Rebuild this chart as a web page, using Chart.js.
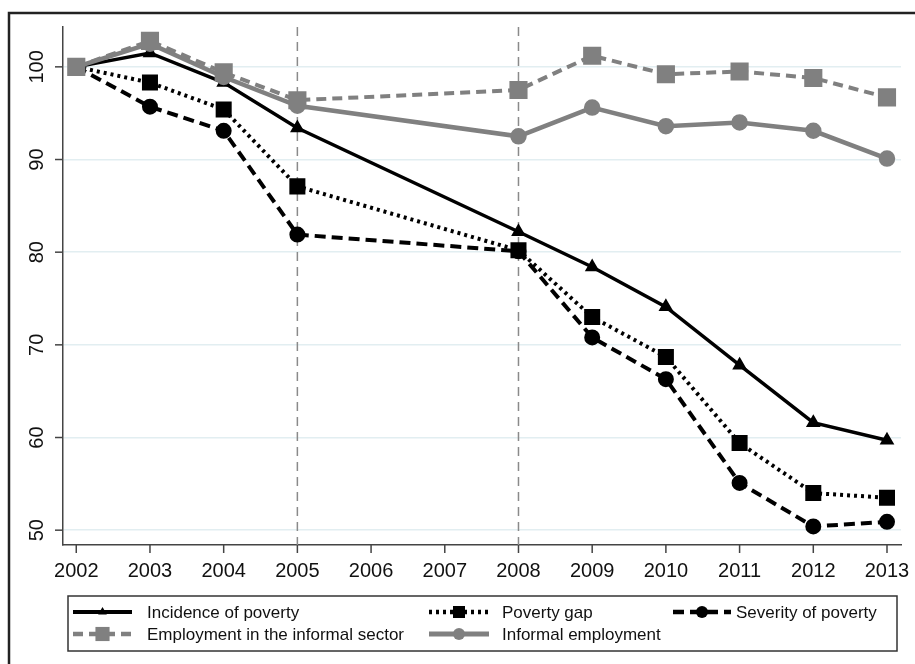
<!DOCTYPE html>
<html>
<head>
<meta charset="utf-8">
<script src="https://cdn.jsdelivr.net/npm/chart.js@4"></script>
<style>
  html, body { margin: 0; padding: 0; background: #fff; }
  #wrap { width: 915px; height: 664px; }
</style>
</head>
<body>
<div id="wrap"><canvas id="grafico" width="915" height="664"></canvas></div>
<script>
// data (index, 2002 = 100)
const anos = [2002, 2003, 2004, 2005, 2008, 2009, 2010, 2011, 2012, 2013];
const incidencia = [100, 101.5, 98.3, 93.4, 82.2, 78.4, 74.1, 67.8, 61.6, 59.7];
const hiato = [100, 98.3, 95.4, 87.1, 80.2, 73.0, 68.7, 59.4, 54.0, 53.5];
const severidade = [100, 95.7, 93.1, 81.9, 80.1, 70.8, 66.3, 55.1, 50.4, 50.9];
const empSetorInformal = [100, 102.8, 99.4, 96.4, 97.5, 101.2, 99.2, 99.5, 98.8, 96.7];
const empInformal = [100, 102.5, 98.9, 95.8, 92.5, 95.6, 93.6, 94.0, 93.1, 90.1];
const xTicks = [2002, 2003, 2004, 2005, 2006, 2007, 2008, 2009, 2010, 2011, 2012, 2013];
const yTicks = [50, 60, 70, 80, 90, 100];
const linhasRef = [2005, 2008];

const CINZA = '#808080';
const fonte = '"Liberation Sans", Arial, sans-serif';

function pts(vals) {
  return anos.map((a, i) => ({ x: a, y: vals[i] }));
}

const datasets = [
  { label: 'Incidence of poverty', data: pts(incidencia), borderColor: '#000', backgroundColor: '#000',
    borderWidth: 3.5, pointStyle: 'triangle', pointRadius: 5, order: 1 },
  { label: 'Poverty gap', data: pts(hiato), borderColor: '#000', backgroundColor: '#000',
    borderWidth: 4, borderDash: [3, 4], pointStyle: 'rect', pointRadius: 8.5, order: 1 },
  { label: 'Severity of poverty', data: pts(severidade), borderColor: '#000', backgroundColor: '#000',
    borderWidth: 4, borderDash: [11, 6], pointStyle: 'circle', pointRadius: 6, order: 1 },
  { label: 'Employment in the informal sector', data: pts(empSetorInformal), borderColor: CINZA, backgroundColor: CINZA,
    borderWidth: 4, borderDash: [10, 6], pointStyle: 'rect', pointRadius: 10, order: 0 },
  { label: 'Informal employment', data: pts(empInformal), borderColor: CINZA, backgroundColor: CINZA,
    borderWidth: 4.5, pointStyle: 'circle', pointRadius: 6, order: 0 }
];

function desenhaMarcador(ctx, estilo, r, x, y, cor) {
  ctx.save();
  ctx.fillStyle = cor;
  ctx.setLineDash([]);
  ctx.beginPath();
  if (estilo === 'rect') {
    const s = Math.SQRT1_2 * r;
    ctx.rect(x - s, y - s, 2 * s, 2 * s);
  } else if (estilo === 'circle') {
    ctx.arc(x, y, r, 0, Math.PI * 2);
  } else if (estilo === 'triangle') {
    ctx.moveTo(x, y - r);
    ctx.lineTo(x + r * 0.87, y + r * 0.5);
    ctx.lineTo(x - r * 0.87, y + r * 0.5);
    ctx.closePath();
  }
  ctx.fill();
  ctx.restore();
}

const molduraEixos = {
  id: 'molduraEixos',
  beforeDraw(chart) {
    const ctx = chart.ctx;
    ctx.save();
    ctx.fillStyle = '#fff';
    ctx.fillRect(0, 0, chart.width, chart.height);
    ctx.strokeStyle = '#222';
    ctx.lineWidth = 2.5;
    ctx.strokeRect(9, 13, 950, 700);
    ctx.restore();
  },
  beforeDatasetsDraw(chart) {
    const ctx = chart.ctx;
    const xs = chart.scales.x, area = chart.chartArea;
    ctx.save();
    ctx.strokeStyle = '#8a8a8a';
    ctx.lineWidth = 1.5;
    ctx.setLineDash([9, 6]);
    linhasRef.forEach(a => {
      const px = xs.getPixelForValue(a);
      ctx.beginPath();
      ctx.moveTo(px, area.top);
      ctx.lineTo(px, area.bottom);
      ctx.stroke();
    });
    ctx.restore();
  },
  afterDraw(chart) {
    const ctx = chart.ctx;
    const xs = chart.scales.x, ys = chart.scales.y, area = chart.chartArea;
    ctx.save();
    ctx.strokeStyle = '#444';
    ctx.lineWidth = 1.5;
    ctx.fillStyle = '#111';
    ctx.font = '20px ' + fonte;
    // x ticks
    ctx.textAlign = 'center';
    ctx.textBaseline = 'middle';
    xTicks.forEach(a => {
      const px = xs.getPixelForValue(a);
      ctx.beginPath();
      ctx.moveTo(px, area.bottom);
      ctx.lineTo(px, area.bottom + 8);
      ctx.stroke();
      ctx.fillText(String(a), px, area.bottom + 26);
    });
    // y ticks, rotated
    yTicks.forEach(v => {
      const py = ys.getPixelForValue(v);
      ctx.beginPath();
      ctx.moveTo(area.left - 8, py);
      ctx.lineTo(area.left, py);
      ctx.stroke();
      ctx.save();
      ctx.translate(area.left - 26, py);
      ctx.rotate(-Math.PI / 2);
      ctx.fillText(String(v), 0, 0);
      ctx.restore();
    });

    // legend
    ctx.strokeStyle = '#333';
    ctx.lineWidth = 1.5;
    ctx.strokeRect(68, 596, 829, 55);
    const cols = [[73, 132, 147], [429, 489, 502], [673, 731, 736]];
    const pos = [[0, 0], [1, 0], [2, 0], [0, 1], [1, 1]];
    ctx.font = '17px ' + fonte;
    ctx.textAlign = 'left';
    chart.data.datasets.forEach((ds, i) => {
      const c = cols[pos[i][0]];
      const y = pos[i][1] === 0 ? 612 : 634;
      ctx.save();
      ctx.strokeStyle = ds.borderColor;
      ctx.lineWidth = ds.borderWidth + 0.5;
      ctx.setLineDash(ds.borderDash || []);
      ctx.beginPath();
      ctx.moveTo(c[0], y);
      ctx.lineTo(c[1], y);
      ctx.stroke();
      ctx.restore();
      desenhaMarcador(ctx, ds.pointStyle, ds.pointRadius, (c[0] + c[1]) / 2, y, ds.backgroundColor);
      ctx.fillStyle = '#111';
      ctx.fillText(ds.label, c[2], y + 1);
    });
    ctx.restore();
  }
};

const grafico = new Chart(document.getElementById('grafico').getContext('2d'), {
  type: 'line',
  data: { datasets: datasets },
  options: {
    responsive: false,
    animation: false,
    layout: { padding: { left: 63, top: 27, right: 11, bottom: 119 } },
    plugins: { legend: { display: false }, tooltip: { enabled: false } },
    elements: { line: { tension: 0 }, point: { borderWidth: 0 } },
    scales: {
      x: {
        type: 'linear', min: 2001.82, max: 2013.19,
        grid: { display: false, drawTicks: false },
        border: { display: true, color: '#444', width: 1.5 },
        ticks: { display: false }
      },
      y: {
        type: 'linear', min: 48.4, max: 104.3,
        afterBuildTicks: s => { s.ticks = yTicks.map(v => ({ value: v })); },
        grid: { color: '#e2eef1', lineWidth: 1.5, drawTicks: false },
        border: { display: true, color: '#444', width: 1.5 },
        ticks: { display: false }
      }
    }
  },
  plugins: [molduraEixos]
});
</script>
</body>
</html>
